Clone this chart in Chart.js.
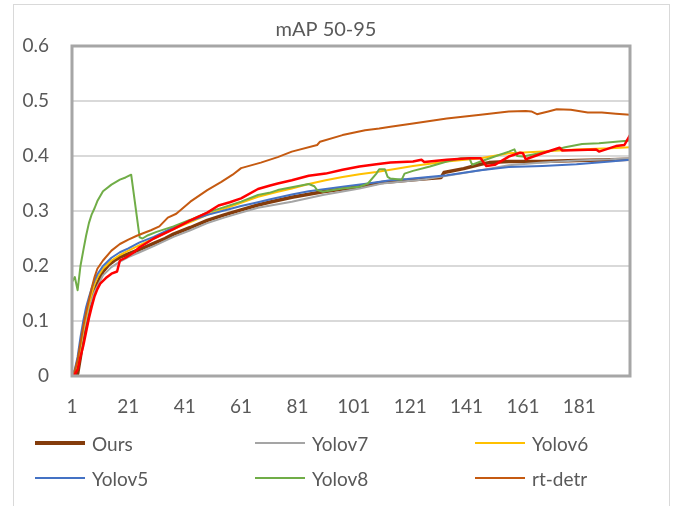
<!DOCTYPE html>
<html>
<head>
<meta charset="utf-8">
<script src="https://cdn.jsdelivr.net/npm/chart.js@4.4.1/dist/chart.umd.min.js"></script>
<style>
  html, body { margin: 0; padding: 0; background: #fff; }
  body { width: 677px; height: 506px; overflow: hidden; position: relative; font-family: Lato, "Open Sans", sans-serif; }
  #frame { position: absolute; left: 13px; top: 4px; width: 657px; height: 540px; border: 1px solid #d9d9d9; box-sizing: border-box; }
  #chart { position: absolute; left: 0; top: 0; }
  .item { position: absolute; height: 24px; display: flex; align-items: center; color: #595959; font-size: 19px; white-space: nowrap; }
  .swatch { width: 50px; margin-right: 7px; }
</style>
</head>
<body>
<div id="frame"></div>
<canvas id="chart" width="677" height="506"></canvas>
<div id="legend"></div>
<script>
// values: [epoch, mAP]
const chartTitle = 'mAP 50-95';
const xTickValues = [1, 21, 41, 61, 81, 101, 121, 141, 161, 181];
const yTickLabels = ['0', '0.1', '0.2', '0.3', '0.4', '0.5', '0.6'];

const ours = [[1,0],[2,0],[3,0.004],[4,0.035],[5,0.07],[6,0.1],[7,0.122],[8,0.14],[9,0.155],[10,0.168],[12,0.19],[14,0.202],[16,0.21],[18,0.216],[21,0.222],[25,0.23],[30,0.241],[34,0.25],[37,0.258],[43,0.27],[49,0.283],[55,0.293],[61,0.302],[67,0.311],[71,0.316],[79,0.325],[90,0.335],[97,0.34],[103,0.344],[111,0.352],[122,0.357],[132,0.361],[133,0.37],[140,0.377],[146,0.385],[149,0.388],[156,0.39],[168,0.39],[180,0.392],[192,0.393],[199,0.394]];
const yolov7 = [[1,0],[3,0.02],[5,0.08],[7,0.125],[9,0.153],[12,0.183],[15,0.198],[18,0.208],[21,0.216],[25,0.225],[30,0.236],[37,0.253],[43,0.265],[49,0.278],[55,0.288],[61,0.297],[67,0.306],[79,0.317],[90,0.329],[103,0.341],[111,0.35],[125,0.357],[134,0.364],[148,0.376],[156,0.383],[168,0.388],[180,0.392],[192,0.394],[199,0.396]];
const yolov6 = [[1,0],[2,0.008],[3,0.025],[4,0.055],[5,0.085],[6,0.11],[7,0.132],[8,0.15],[9,0.167],[10,0.179],[12,0.195],[15,0.21],[18,0.22],[21,0.228],[25,0.238],[30,0.25],[37,0.267],[43,0.28],[49,0.293],[55,0.304],[61,0.315],[67,0.326],[74,0.335],[79,0.341],[85,0.349],[91,0.356],[97,0.362],[103,0.367],[109,0.371],[114,0.375],[122,0.382],[134,0.39],[146,0.396],[156,0.405],[168,0.408],[180,0.412],[192,0.414],[199,0.416]];
const yolov5 = [[1,0],[2,0.012],[3,0.035],[4,0.07],[5,0.1],[6,0.125],[7,0.143],[8,0.16],[9,0.174],[10,0.185],[12,0.2],[15,0.215],[18,0.225],[21,0.232],[25,0.243],[30,0.253],[37,0.27],[43,0.282],[49,0.293],[55,0.301],[61,0.309],[67,0.316],[71,0.321],[79,0.33],[85,0.336],[97,0.344],[106,0.35],[114,0.356],[120,0.358],[134,0.365],[146,0.374],[156,0.38],[168,0.382],[180,0.385],[192,0.39],[199,0.393]];
const yolov8 = [[1,0.171],[2,0.18],[3,0.156],[4,0.2],[5,0.228],[6,0.255],[7,0.278],[8,0.294],[9,0.305],[10,0.318],[12,0.336],[15,0.348],[18,0.357],[20,0.361],[22,0.366],[25,0.252],[26,0.25],[28,0.256],[31,0.262],[37,0.272],[43,0.284],[49,0.297],[55,0.307],[61,0.317],[67,0.329],[71,0.333],[74,0.338],[79,0.343],[85,0.349],[87,0.345],[88,0.338],[90,0.335],[97,0.341],[103,0.344],[106,0.35],[109,0.368],[110,0.376],[112,0.376],[113,0.362],[114,0.359],[118,0.357],[119,0.368],[122,0.373],[128,0.381],[134,0.39],[139,0.396],[142,0.396],[143,0.384],[146,0.39],[151,0.399],[156,0.408],[158,0.412],[159,0.4],[161,0.399],[170,0.408],[176,0.416],[182,0.422],[188,0.423],[194,0.426],[199,0.428]];
const rtdetr = [[1,0],[2,0.01],[3,0.03],[4,0.06],[5,0.09],[6,0.115],[7,0.138],[8,0.16],[9,0.18],[10,0.195],[12,0.21],[15,0.228],[18,0.24],[21,0.248],[24,0.255],[26,0.259],[29,0.265],[32,0.272],[35,0.288],[38,0.295],[43,0.317],[49,0.338],[54,0.353],[58,0.366],[61,0.378],[68,0.388],[74,0.398],[79,0.408],[88,0.42],[89,0.426],[97,0.438],[105,0.447],[110,0.45],[114,0.453],[122,0.459],[134,0.468],[146,0.475],[156,0.481],[162,0.482],[164,0.481],[166,0.476],[170,0.481],[173,0.485],[178,0.484],[184,0.479],[189,0.479],[194,0.477],[199,0.475]];
// red series has no legend entry in the picture
const redSeries = [[1,0],[2,0.003],[3,0.012],[4,0.035],[5,0.055],[6,0.08],[7,0.105],[8,0.126],[9,0.145],[10,0.158],[11,0.168],[13,0.178],[15,0.186],[17,0.19],[18,0.21],[20,0.215],[23,0.225],[25,0.234],[30,0.25],[37,0.267],[43,0.283],[49,0.297],[53,0.31],[57,0.316],[61,0.323],[67,0.34],[71,0.346],[74,0.35],[79,0.356],[85,0.364],[91,0.368],[97,0.375],[103,0.381],[109,0.385],[114,0.388],[122,0.39],[125,0.393],[126,0.389],[134,0.393],[142,0.396],[146,0.396],[148,0.382],[151,0.384],[156,0.399],[160,0.406],[161,0.405],[162,0.394],[168,0.405],[174,0.415],[175,0.41],[181,0.411],[187,0.412],[188,0.408],[194,0.418],[197,0.42],[199,0.438]];

const series = [
    { name: 'Ours',    data: ours,      color: '#843c0c', width: 3.5, legend: true },
    { name: 'Yolov7',  data: yolov7,    color: '#a5a5a5', width: 2,   legend: true },
    { name: 'Yolov6',  data: yolov6,    color: '#ffc000', width: 2,   legend: true },
    { name: 'Yolov5',  data: yolov5,    color: '#4472c4', width: 2,   legend: true },
    { name: 'Yolov8',  data: yolov8,    color: '#70ad47', width: 2,   legend: true },
    { name: 'rt-detr', data: rtdetr,    color: '#c55a11', width: 2,   legend: true },
    { name: '',        data: redSeries, color: '#ff0000', width: 2.5, legend: false }
];

const textColor = '#595959';
const fontFamily = 'Lato, "Open Sans", sans-serif';

const plotFrame = {
    id: 'plotFrame',
    afterDatasetsDraw(chart) {
        const { ctx, chartArea: a } = chart;
        ctx.save();
        ctx.strokeStyle = '#a6a6a6';
        ctx.lineWidth = 3;
        ctx.strokeRect(a.left, a.top, a.right - a.left, a.bottom - a.top);
        ctx.restore();
    },
    afterDraw(chart) {
        const ctx = chart.ctx;
        ctx.save();
        ctx.fillStyle = textColor;
        ctx.font = '20px ' + fontFamily;
        ctx.textAlign = 'center';
        ctx.textBaseline = 'middle';
        ctx.fillText(chartTitle, 326, 30);
        ctx.restore();
    }
};

new Chart(document.getElementById('chart'), {
    type: 'line',
    data: {
        datasets: series.map((s, i) => ({
            label: s.name,
            data: s.data.map(p => ({ x: p[0], y: p[1] })),
            borderColor: s.color,
            backgroundColor: s.color,
            borderWidth: s.width,
            pointRadius: 0,
            tension: 0,
            borderJoinStyle: 'round',
            order: series.length - i
        }))
    },
    options: {
        responsive: false,
        animation: false,
        devicePixelRatio: 1,
        layout: { padding: { top: 46, right: 47, bottom: 86, left: 0 } },
        plugins: {
            legend: { display: false },
            title: { display: false },
            tooltip: { enabled: false }
        },
        scales: {
            x: {
                type: 'linear',
                min: 1,
                max: 199,
                afterBuildTicks: scale => { scale.ticks = xTickValues.map(v => ({ value: v })); },
                afterFit: scale => { scale.height = 44; },
                grid: { display: false, drawTicks: false },
                border: { display: false },
                ticks: {
                    autoSkip: false,
                    maxRotation: 0,
                    padding: 19,
                    color: textColor,
                    font: { family: fontFamily, size: 19 },
                    callback: v => String(v)
                }
            },
            y: {
                min: 0,
                max: 0.6,
                afterFit: scale => { scale.width = 72; },
                grid: { color: '#d9d9d9', lineWidth: 2, drawTicks: false },
                border: { display: false },
                ticks: {
                    stepSize: 0.1,
                    padding: 23,
                    color: textColor,
                    font: { family: fontFamily, size: 19 },
                    callback: (v, i) => yTickLabels[i]
                }
            }
        }
    },
    plugins: [plotFrame]
});

// legend laid out in three columns like the original
const legendCols = [35, 255, 475];
const legendRows = [443, 478];
const legendBox = document.getElementById('legend');
series.filter(s => s.legend).forEach((s, i) => {
    const item = document.createElement('div');
    item.className = 'item';
    item.style.left = legendCols[i % 3] + 'px';
    item.style.top = (legendRows[Math.floor(i / 3)] - 12) + 'px';
    const sw = document.createElement('span');
    sw.className = 'swatch';
    sw.style.height = (s.width > 3 ? 4 : 2) + 'px';
    sw.style.background = s.color;
    const label = document.createElement('span');
    label.textContent = s.name;
    item.appendChild(sw);
    item.appendChild(label);
    legendBox.appendChild(item);
});
</script>
</body>
</html>
